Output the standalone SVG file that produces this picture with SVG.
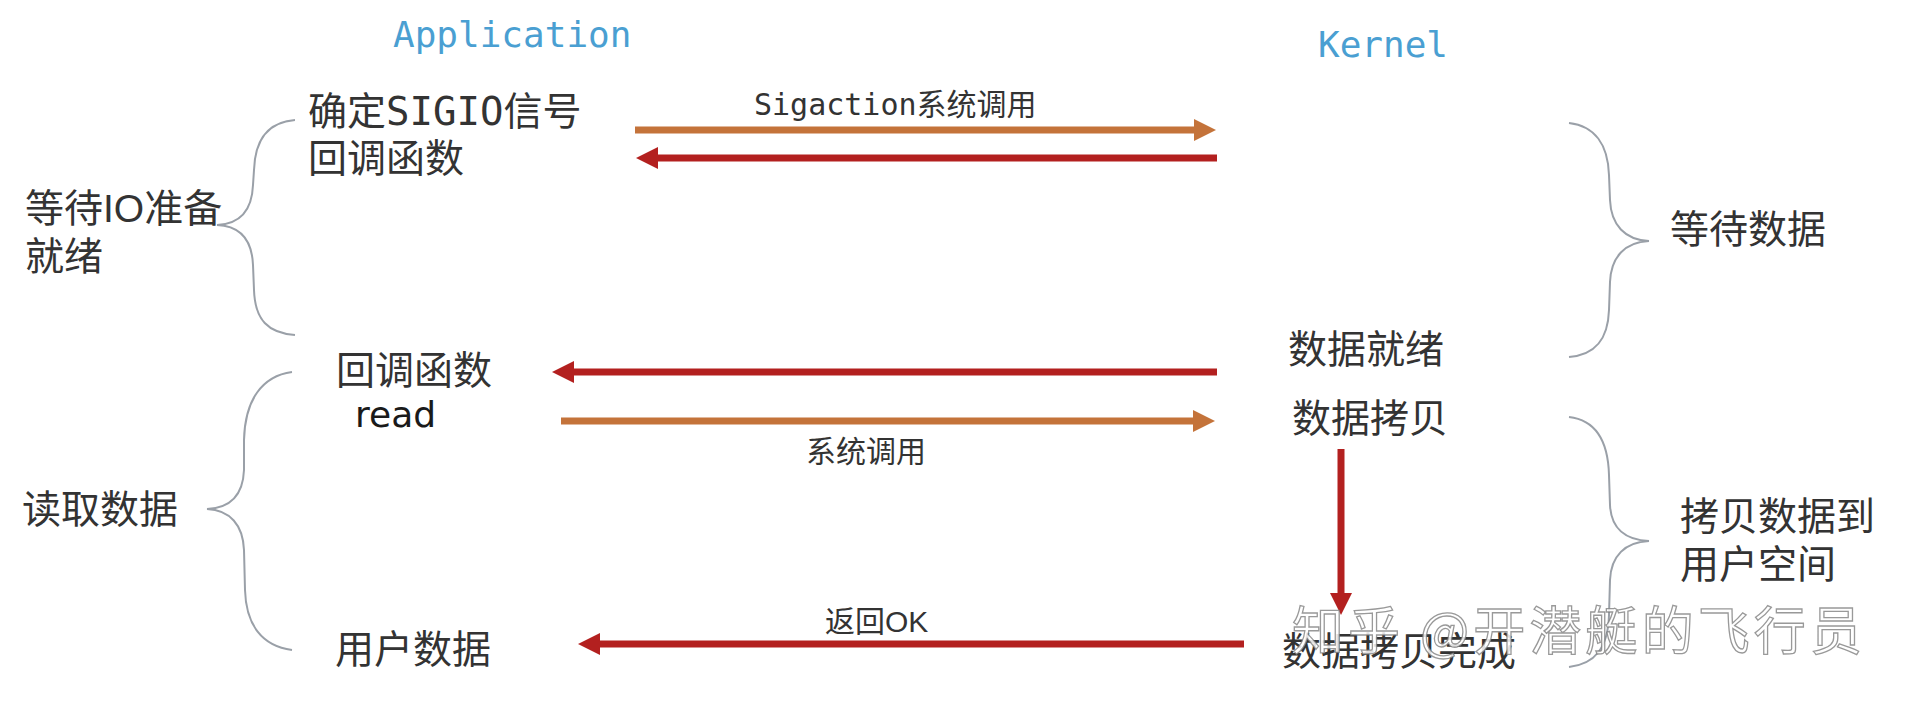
<svg xmlns="http://www.w3.org/2000/svg" width="1912" height="706" viewBox="0 0 1912 706">
<style>
.hd{font-family:"DejaVu Sans Mono","Liberation Mono",monospace;font-size:36px;fill:#4a9fd2}
.lb{font-family:"Liberation Sans","Noto Sans CJK SC",sans-serif;font-size:39px;fill:#333}
.sm{font-family:"Liberation Sans","Noto Sans CJK SC",sans-serif;font-size:30px;fill:#333}
.mono{font-family:"DejaVu Sans Mono","Liberation Mono",monospace}
.brace{fill:none;stroke:#9aa0a8;stroke-width:2}
.or{stroke:#c4733a;stroke-width:7;fill:none}
.rd{stroke:#b3201f;stroke-width:7;fill:none}
.wm{font-family:"Noto Sans CJK SC",sans-serif;font-size:52px;fill:#fff;fill-opacity:0.85;stroke:#777;stroke-width:1.3;stroke-opacity:0.75}
</style>
<defs>
<marker id="ao" markerUnits="userSpaceOnUse" markerWidth="22" markerHeight="22" viewBox="0 0 22 22" refX="2" refY="11" orient="auto"><path d="M0,0 L22,11 L0,22 z" fill="#c4733a"/></marker>
<marker id="ar" markerUnits="userSpaceOnUse" markerWidth="22" markerHeight="22" viewBox="0 0 22 22" refX="2" refY="11" orient="auto"><path d="M0,0 L22,11 L0,22 z" fill="#b3201f"/></marker>
</defs>
<rect width="1912" height="706" fill="#fff"/>

<g id="title-application"><text class="hd" x="393" y="47">Application</text></g>
<g id="title-kernel"><text class="hd" x="1318" y="57">Kernel</text></g>

<g id="app-sigio"><text class="lb" x="308" y="125">确定<tspan class="mono">SIGIO</tspan>信号</text><text class="lb" x="308" y="172">回调函数</text></g>
<g id="app-callback"><text class="lb" x="336" y="384">回调函数</text><text x="355" y="427" font-family="DejaVu Sans, sans-serif" font-size="36" fill="#1a1a1a">read</text></g>
<g id="app-userdata"><text class="lb" x="335" y="663">用户数据</text></g>

<g id="phase-wait-io"><text class="lb" x="25" y="222">等待IO准备</text><text class="lb" x="25" y="270">就绪</text>
<path class="brace" d="M295,120 C268,122 255,140 254,170 L253,185 C252,210 240,224 217,225 C240,226 252,240 253,265 L254,290 C255,320 268,333 295,335"/></g>
<g id="phase-read"><text class="lb" x="22" y="523">读取数据</text>
<path class="brace" d="M292,372 C262,376 245,400 244,440 L244,470 C243,495 230,508 207,509 C230,510 243,525 244,550 L245,590 C246,625 262,646 292,650"/></g>

<g id="kernel-ready"><text class="lb" x="1288" y="363">数据就绪</text></g>
<g id="kernel-copy"><text class="lb" x="1292" y="432">数据拷贝</text></g>
<g id="kernel-done"><text class="lb" x="1282" y="665">数据拷贝完成</text></g>

<g id="phase-wait-data"><text class="lb" x="1670" y="243">等待数据</text>
<path class="brace" d="M1569,123 C1595,126 1608,145 1609,175 L1610,200 C1611,225 1625,240 1649,241 C1625,242 1611,257 1610,282 L1609,310 C1608,340 1595,355 1569,357"/></g>
<g id="phase-copy"><text class="lb" x="1680" y="530">拷贝数据到</text><text class="lb" x="1680" y="578">用户空间</text>
<path class="brace" d="M1569,417 C1595,420 1608,440 1609,475 L1610,505 C1611,528 1625,540 1649,541 C1625,542 1611,556 1610,580 L1609,615 C1608,648 1595,664 1569,667"/></g>

<g id="connectors">
<line class="or" x1="635" y1="130" x2="1196" y2="130" marker-end="url(#ao)"/>
<text class="sm" x="754" y="115"><tspan class="mono">Sigaction</tspan>系统调用</text>
<line class="rd" x1="1217" y1="158" x2="656" y2="158" marker-end="url(#ar)"/>
<line class="rd" x1="1217" y1="372" x2="572" y2="372" marker-end="url(#ar)"/>
<line class="or" x1="561" y1="421" x2="1195" y2="421" marker-end="url(#ao)"/>
<text class="sm" x="806" y="462">系统调用</text>
<line class="rd" x1="1341" y1="449" x2="1341" y2="595" marker-end="url(#ar)"/>
<line class="rd" x1="1244" y1="644" x2="598" y2="644" marker-end="url(#ar)"/>
<text class="sm" x="825" y="632" font-size="28">返回OK</text>
</g>

<text class="wm" x="1292" y="650" textLength="570" lengthAdjust="spacing">知乎 @开潜艇的飞行员</text>
</svg>
